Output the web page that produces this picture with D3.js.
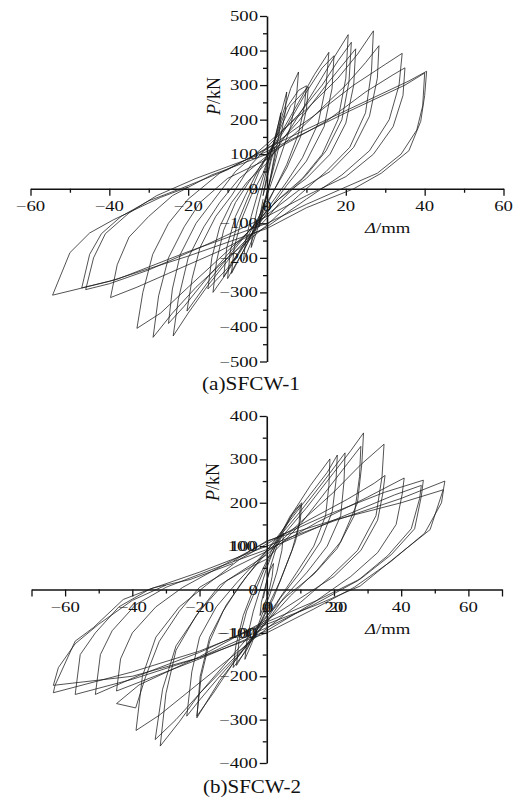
<!DOCTYPE html>
<html>
<head>
<meta charset="utf-8">
<script src="https://cdn.jsdelivr.net/npm/d3@7/dist/d3.min.js"></script>
<style>
  body { margin: 0; background: #fff; }
  svg text { font-family: "Liberation Serif", "Times New Roman", serif; fill: #111; }
</style>
</head>
<body>
<div id="chart"></div>
<script>
// Load-displacement cycles, each point is [Δ (mm), P (kN)]
const sfcw1Cycles = [
  [[-1,-20],[0,30],[1,80],[2,120],[1.8,90],[1,40],[0,-20],[-1,-60],[-2,-110],[-1.8,-80],[-1,-30]],
  [[-1,-20],[0,40],[2,140],[3.5,220],[3.2,170],[2,90],[0.5,10],[-1,-60],[-2.5,-120],[-4,-170],[-3.6,-120],[-2.5,-60],[-1.5,-15]],
  [[-1.5,-15],[0,60],[2.5,170],[5,280],[4.6,220],[3,120],[1,30],[-1,-50],[-3.5,-140],[-6,-210],[-5.4,-150],[-4,-80],[-2.5,-20]],
  [[-2.5,-20],[0,70],[3,180],[6,290],[8,338],[7.5,270],[6,180],[3,80],[0,-20],[-3,-110],[-6,-180],[-9,-245],[-8.3,-170],[-6.5,-90],[-4,-20]],
  [[-4,-20],[-1,45],[2,140],[5,235],[8,285],[10,298],[9.5,240],[8,160],[5,70],[2,0],[-1,-70],[-5,-160],[-10,-260],[-9.3,-180],[-7.5,-100],[-5,-30]],
  [[-5,-30],[-2,50],[2,140],[6,240],[10.5,295],[10,230],[8.5,150],[5,60],[1,-20],[-3,-100],[-7,-180],[-11,-255],[-10.2,-170],[-8,-80],[-5.5,-20]],
  [[-5.5,-20],[-2,60],[3,150],[8,250],[12,330],[15.7,395],[15,300],[13,190],[9,90],[5,20],[0,-60],[-5,-150],[-10,-240],[-13.7,-300],[-12.8,-210],[-11,-120],[-8,-40]],
  [[-8,-40],[-4,30],[0,90],[5,180],[10,280],[14,350],[17,385],[16.5,290],[14.5,180],[10,80],[5,10],[0,-70],[-5,-150],[-10,-230],[-15,-290],[-14,-200],[-12,-110],[-9,-40]],
  [[-9,-40],[-5,20],[0,75],[6,175],[12,285],[17,380],[20.6,446],[20,320],[18,200],[14,100],[9,30],[3,-30],[-3,-100],[-10,-200],[-15,-270],[-20.3,-354],[-19,-260],[-17,-170],[-13,-80],[-9,-20]],
  [[-9,-20],[-4,70],[0,120],[8,215],[14,300],[18,370],[21.4,424],[20.8,310],[19,200],[15,110],[10,40],[4,-30],[0,-85],[-8,-180],[-15,-280],[-20,-360],[-23.8,-426],[-22.5,-320],[-20,-200],[-16,-110],[-12,-40]],
  [[-12,-40],[-7,30],[0,95],[8,195],[15,300],[20,370],[22.5,405],[22,300],[20,190],[16,100],[10,30],[3,-30],[0,-65],[-8,-165],[-15,-255],[-21,-340],[-25,-390],[-24,-290],[-22,-190],[-18,-100],[-14,-40]],
  [[-14,-40],[-8,50],[0,130],[10,230],[18,320],[23,390],[27,457],[26.5,340],[25,220],[21,120],[15,50],[8,-20],[0,-105],[-10,-200],[-18,-285],[-24,-360],[-28.9,-430],[-27.5,-310],[-25,-200],[-21,-110],[-17,-40]],
  [[-17,-40],[-10,30],[0,85],[10,190],[20,300],[25,365],[28.4,414],[28,320],[26,210],[22,120],[16,50],[8,-5],[0,-75],[-10,-180],[-20,-285],[-27,-360],[-33,-404],[-31.5,-300],[-29,-190],[-25,-100],[-20,-30]],
  [[-20,-30],[-12,45],[0,115],[12,212],[22,300],[30,360],[34.3,392],[33.5,300],[31,200],[26,110],[19,40],[10,-30],[0,-110],[-12,-180],[-25,-245],[-33,-285],[-39.7,-315],[-38,-220],[-35,-140],[-30,-80],[-24,-20]],
  [[-24,-20],[-14,40],[0,100],[15,195],[25,280],[32,330],[35,350],[34.5,270],[32,180],[27,100],[20,35],[10,-20],[0,-80],[-15,-160],[-30,-235],[-40,-275],[-46,-292],[-44,-200],[-41,-130],[-35,-70],[-28,-20]],
  [[-28,-20],[-18,30],[-5,85],[0,108],[20,220],[35,300],[40,335],[39.5,240],[38,170],[34,100],[28,45],[20,5],[10,-45],[0,-100],[-20,-182],[-38,-262],[-47,-287],[-45,-190],[-42,-130],[-37,-80],[-30,-35],[-22,0]],
  [[-22,0],[-10,55],[0,118],[20,226],[36,312],[40.5,340],[40,270],[39,195],[36,110],[29,45],[22,0],[10,-55],[0,-115],[-20,-195],[-40,-268],[-54.4,-308],[-50,-185],[-45,-128],[-39,-90],[-27,-25],[-20,5]]
];

const sfcw2Cycles = [
  [[-1,-20],[0,20],[1,45],[2,60],[1.6,30],[0.5,-10],[-1,-40],[-2,-60],[-1.6,-30],[-0.8,-5]],
  [[-0.8,-5],[1,50],[3,100],[5,130],[4.5,90],[3,40],[1,-10],[-2,-70],[-4.5,-125],[-6.5,-161],[-5.8,-110],[-4,-50],[-2,0]],
  [[-2,0],[0,50],[3,110],[7,170],[10.4,200],[10,160],[8.5,110],[5,40],[2,-20],[-2,-80],[-6,-140],[-10,-180],[-9.2,-130],[-7,-60],[-4,0]],
  [[-4,0],[-1,50],[3,115],[7,165],[10,195],[9.6,150],[7.5,90],[4,20],[0,-45],[-4,-110],[-9,-175],[-8.2,-115],[-6,-50],[-3,5]],
  [[-3,5],[0,60],[4,120],[8,180],[13,240],[18.8,301],[18.5,240],[17.5,170],[14,100],[9,40],[3,-30],[-3,-95],[-10,-170],[-16,-240],[-20.8,-292],[-19.5,-200],[-17,-120],[-13,-50],[-8,10]],
  [[-8,10],[-3,60],[2,110],[8,170],[14,230],[18,270],[21,310],[20.6,250],[19.5,180],[16,110],[10,40],[4,-20],[0,-70],[-6,-130],[-14,-200],[-20,-255],[-23.8,-292],[-22.3,-190],[-20,-110],[-15,-40],[-9,15]],
  [[-9,15],[-3,65],[3,115],[10,180],[17,250],[23.3,315],[23,250],[22,170],[18,100],[12,40],[5,-20],[0,-75],[-7,-140],[-14,-210],[-20.8,-296],[-19.8,-200],[-17,-110],[-12,-35],[-6,30]],
  [[-6,30],[0,85],[6,135],[12,190],[20,270],[25,320],[28.8,361],[28.3,290],[27,200],[22,110],[15,45],[7,-15],[0,-75],[-10,-160],[-20,-240],[-27,-300],[-33.2,-346],[-31,-230],[-27,-130],[-20,-50],[-12,20]],
  [[-12,20],[-4,55],[0,70],[10,150],[18,230],[24,290],[28,330],[27.6,260],[26,170],[21,95],[14,35],[6,-15],[0,-60],[-10,-150],[-20,-240],[-26,-305],[-31.7,-361],[-30,-240],[-27,-140],[-21,-60],[-14,10]],
  [[-14,10],[-5,55],[0,80],[10,155],[20,225],[28,288],[34.9,335],[34.3,260],[32.5,170],[27,90],[19,30],[10,-30],[0,-90],[-12,-165],[-24,-240],[-32,-290],[-38.9,-325],[-37,-200],[-33,-110],[-26,-40],[-18,10]],
  [[-18,10],[-8,70],[0,105],[12,158],[24,208],[32,245],[35.2,263],[34.5,220],[33,160],[28,90],[20,30],[10,-20],[0,-70],[-20,-155],[-38,-220],[-44.7,-263],[-39,-273],[-36,-200],[-32,-120],[-26,-50],[-20,5]],
  [[-20,5],[-10,50],[0,88],[15,155],[30,213],[40.9,257],[40.3,220],[38.5,150],[33,85],[25,30],[14,-30],[0,-95],[-20,-160],[-35,-205],[-44.7,-234],[-43.5,-160],[-40,-100],[-33,-40],[-25,5]],
  [[-25,5],[-12,60],[0,110],[18,172],[35,224],[46.6,252],[46,215],[44,140],[37,80],[28,25],[15,-25],[0,-75],[-20,-145],[-38,-198],[-51,-242],[-49.5,-150],[-46,-95],[-39,-35],[-30,5]],
  [[-30,5],[-15,50],[0,92],[20,160],[38,218],[46,240],[45.5,210],[43,140],[36,78],[27,20],[14,-35],[0,-88],[-20,-157],[-40,-207],[-57,-242],[-55.5,-150],[-51,-100],[-44,-40],[-35,0]],
  [[-35,0],[-20,40],[0,100],[20,158],[40,210],[53,250],[52.6,232],[48.6,138],[38.7,77],[27.8,8],[15,-35],[0,-80],[-20,-142],[-40,-190],[-63.5,-238],[-63,-221],[-57,-119],[-51.6,-88],[-42.7,-23],[-33.7,4],[-22.8,23],[-10,60]],
  [[-10,65],[0,112],[20,160],[40,200],[52.6,230],[52,200],[47,130],[37,65],[26,5],[14,-45],[0,-100],[-20,-157],[-40,-200],[-63.5,-221],[-62,-180],[-57,-125],[-50,-80],[-40,-25],[-30,10]]
];

// axis tick labels
const sfcw1XLabels = [-60, -40, -20, 0, 20, 40, 60];
const sfcw1YLabels = [-500, -400, -300, -200, -100, 0, 100, 200, 300, 400, 500];
const sfcw2XLabels = [-60, -40, -20, 0, 20, 40, 60];
const sfcw2YLabels = [-400, -300, -200, -100, 0, 100, 200, 300, 400];

const W = 525, H = 801;
const stretch = 1.25; // horizontal stretch of the lettering

const svg = d3.select("#chart").append("svg")
  .attr("width", W)
  .attr("height", H);

const fmt = v => v < 0 ? "\u2212" + Math.abs(v) : String(v);

function label(g, x, y, txt, anchor, size) {
  return g.append("text")
    .attr("transform", `translate(${x},${y}) scale(${stretch},1)`)
    .attr("text-anchor", anchor)
    .style("font-size", size + "px")
    .text(txt);
}

function drawPanel(cfg) {
  const g = svg.append("g");
  const x = d3.scaleLinear().domain(cfg.xDomain).range(cfg.xRange);
  const y = d3.scaleLinear().domain(cfg.yDomain).range(cfg.yRange);
  const x0 = x(0), y0 = y(0);

  // x axis: long ticks every 20, short every 10
  const xMinor = d3.range(cfg.xDomain[0], cfg.xDomain[1] + 1, 10);
  g.append("g")
    .attr("transform", `translate(0,${y0})`)
    .call(d3.axisBottom(x).tickValues(xMinor).tickSize(4).tickSizeOuter(0).tickFormat(""))
    .call(a => a.selectAll(".tick line")
      .attr("y2", d => (d % 20 === 0 || d === cfg.xDomain[0] || d === cfg.xDomain[1]) ? 7 : 4));

  // y axis: long ticks every 100, short every 50
  const yMinor = d3.range(cfg.yDomain[0], cfg.yDomain[1] + 1, 50);
  g.append("g")
    .attr("transform", `translate(${x0},0)`)
    .call(d3.axisLeft(y).tickValues(yMinor).tickSize(4).tickSizeOuter(0).tickFormat(""))
    .call(a => a.selectAll(".tick line").attr("x2", d => d % 100 === 0 ? -7 : -4));

  g.selectAll(".domain").attr("stroke", "#111").attr("stroke-width", 1.6);
  g.selectAll(".tick line").attr("stroke", "#111").attr("stroke-width", 1.3);

  // tick labels
  cfg.xLabels.forEach(v => label(g, x(v), y0 + 22, fmt(v), "middle", 15));
  cfg.yLabels.forEach(v => label(g, x0 - 9, y(v) + 5, fmt(v), "end", 15));
  (cfg.doubled || []).forEach(d => {
    if (d.axis === "x") label(g, x(d.v) + d.dx, y0 + 22, fmt(d.v), "middle", 15);
    else label(g, x0 - 9 + d.dx, y(d.v) + 5, fmt(d.v), "end", 15);
  });

  // axis names
  const pt = g.append("text")
    .attr("transform", `translate(${cfg.pPos[0]},${cfg.pPos[1]}) rotate(-90)`)
    .attr("text-anchor", "middle")
    .style("font-size", "18px");
  pt.append("tspan").style("font-style", "italic").text("P");
  pt.append("tspan").text("/kN");

  const dt = label(g, cfg.dPos[0], cfg.dPos[1], "", "start", 15);
  dt.append("tspan").style("font-style", "italic").text("\u0394");
  dt.append("tspan").text("/mm");

  g.append("text")
    .attr("x", cfg.titlePos[0])
    .attr("y", cfg.titlePos[1])
    .attr("text-anchor", "middle")
    .attr("textLength", 98)
    .attr("lengthAdjust", "spacingAndGlyphs")
    .style("font-size", "18px")
    .text(cfg.title);

  // hysteresis curves
  const line = d3.line().x(d => x(d[0])).y(d => y(d[1]));
  g.append("g")
    .selectAll("path")
    .data(cfg.cycles)
    .join("path")
    .attr("d", line)
    .attr("fill", "none")
    .attr("stroke", "#1a1a1a")
    .attr("stroke-width", 0.75)
    .attr("stroke-linejoin", "miter");
}

drawPanel({
  cycles: sfcw1Cycles,
  xDomain: [-60, 60], xRange: [30.5, 503.5],
  yDomain: [-500, 500], yRange: [361.5, 16],
  xLabels: sfcw1XLabels, yLabels: sfcw1YLabels,
  pPos: [220, 96], dPos: [365, 233],
  title: "(a)SFCW-1", titlePos: [251, 390]
});

drawPanel({
  cycles: sfcw2Cycles,
  xDomain: [-70, 70], xRange: [31.5, 502],
  yDomain: [-400, 400], yRange: [763, 416],
  xLabels: sfcw2XLabels, yLabels: sfcw2YLabels,
  doubled: [{axis: "x", v: 20, dx: 4}, {axis: "x", v: 0, dx: 2}, {axis: "y", v: 100, dx: -2}, {axis: "y", v: -100, dx: -2}],
  pPos: [219, 482], dPos: [365, 634],
  title: "(b)SFCW-2", titlePos: [252, 793]
});
</script>
</body>
</html>
